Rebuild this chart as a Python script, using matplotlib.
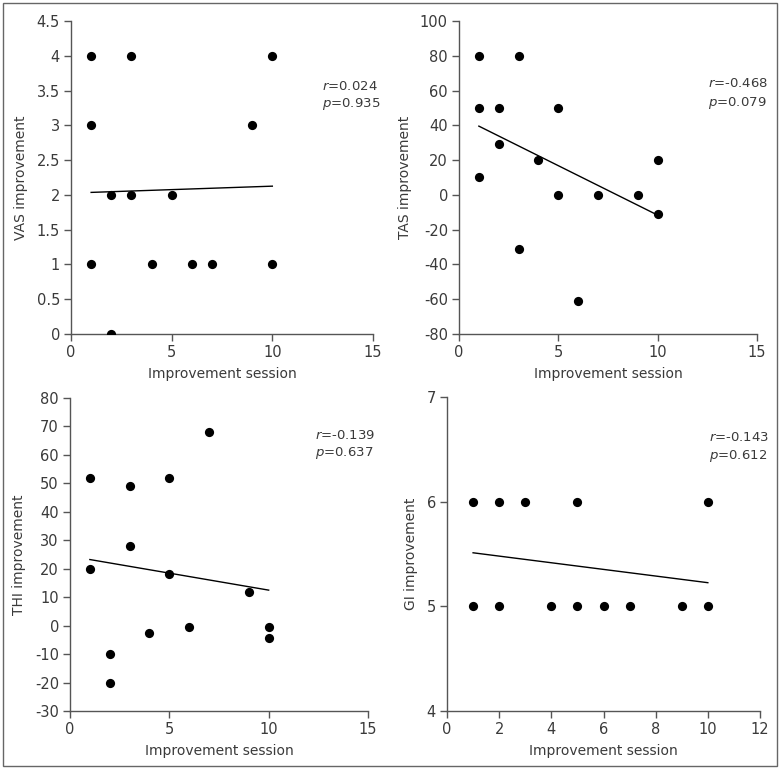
import numpy as np
import matplotlib.pyplot as plt
from matplotlib.patches import Rectangle

plt.rcParams['font.family'] = ['DejaVu Sans']
plt.rcParams['mathtext.fontset'] = 'custom'
plt.rcParams['mathtext.it'] = 'DejaVu Sans:italic'

# VAS
vas_x = [1, 3, 10, 1, 9, 2, 3, 5, 1, 4, 6, 7, 10, 2]
vas_y = [4, 4, 4, 3, 3, 2, 2, 2, 1, 1, 1, 1, 1, 0]
# TAS
tas_x = [1, 3, 1, 2, 5, 2, 4, 10, 1, 5, 7, 9, 10, 3, 6]
tas_y = [80, 80, 50, 50, 50, 29, 20, 20, 10, 0, 0, 0, -11, -31, -61]
# THI
thi_x = [1, 5, 3, 7, 3, 1, 5, 9, 4, 6, 10, 10, 2, 2]
thi_y = [52, 52, 49, 68, 28, 20, 18, 11.7, -2.5, -0.5, -0.5, -4.5, -10, -20]
# GI
gi_x = [1, 2, 3, 5, 10, 1, 2, 4, 5, 6, 7, 9, 10]
gi_y = [6, 6, 6, 6, 6, 5, 5, 5, 5, 5, 5, 5, 5]

stats = [('0.024', '0.935'), ('-0.468', '0.079'), ('-0.139', '0.637'), ('-0.143', '0.612')]

W, H = 780, 769
fig = plt.figure(figsize=(W / 100, H / 100), dpi=100)
fig.patches.append(Rectangle((3 / W, 3 / H), 774 / W, 763 / H, transform=fig.transFigure,
                             fill=False, edgecolor='#666666', linewidth=1))

tc = '#3a3a3a'

def panel(rect, x, y, ylabel, xlim, xticks, ylim, yticks, yticklabels, st, tpos):
    l, t, w, h = rect
    ax = fig.add_axes([l / W, (H - t - h) / H, w / W, h / H])
    ax.scatter(x, y, s=44, color='black', zorder=3, linewidths=0)
    # regression line
    reg = np.polyfit(x, y, 1)
    xx = np.array([min(x), max(x)])
    ax.plot(xx, np.polyval(reg, xx), color='black', lw=1)
    ax.set_xlim(xlim)
    ax.set_ylim(ylim)
    ax.set_xticks(xticks)
    ax.set_yticks(yticks)
    ax.set_yticklabels(yticklabels)
    for s in ['top', 'right']:
        ax.spines[s].set_visible(False)
    for s in ['left', 'bottom']:
        ax.spines[s].set_color('#555555')
        ax.spines[s].set_linewidth(1)
    ax.tick_params(direction='out', length=5, width=1, color='#555555',
                   labelsize=10.5, labelcolor=tc, pad=3)
    ax.set_xlabel('Improvement session', fontsize=10, color=tc, labelpad=5)
    ax.set_ylabel(ylabel, fontsize=10, color=tc, labelpad=6)
    ax.text(tpos[0], tpos[1], '$\\mathit{r}$=' + st[0], transform=ax.transAxes,
            fontsize=9.5, color=tc, va='center')
    ax.text(tpos[0], tpos[2], '$\\mathit{p}$=' + st[1], transform=ax.transAxes,
            fontsize=9.5, color=tc, va='center')
    return ax

panel((71, 21, 302, 313), vas_x, vas_y, 'VAS improvement', (0, 15), [0, 5, 10, 15],
      (0, 4.5), np.arange(0, 4.6, 0.5), ['0', '0.5', '1', '1.5', '2', '2.5', '3', '3.5', '4', '4.5'],
      stats[0], (0.83, 0.79, 0.735))
panel((459, 21, 298, 313), tas_x, tas_y, 'TAS improvement', (0, 15), [0, 5, 10, 15],
      (-80, 100), np.arange(-80, 101, 20), [str(v) for v in range(-80, 101, 20)],
      stats[1], (0.836, 0.80, 0.738))
panel((70, 398, 298, 313), thi_x, thi_y, 'THI improvement', (0, 15), [0, 5, 10, 15],
      (-30, 80), np.arange(-30, 81, 10), [str(v) for v in range(-30, 81, 10)],
      stats[2], (0.822, 0.88, 0.824))
panel((447, 397, 313, 314), gi_x, gi_y, 'GI improvement', (0, 12), [0, 2, 4, 6, 8, 10, 12],
      (4, 7), [4, 5, 6, 7], ['4', '5', '6', '7'],
      stats[3], (0.837, 0.87, 0.811))

fig.savefig('out.png', dpi=100)
